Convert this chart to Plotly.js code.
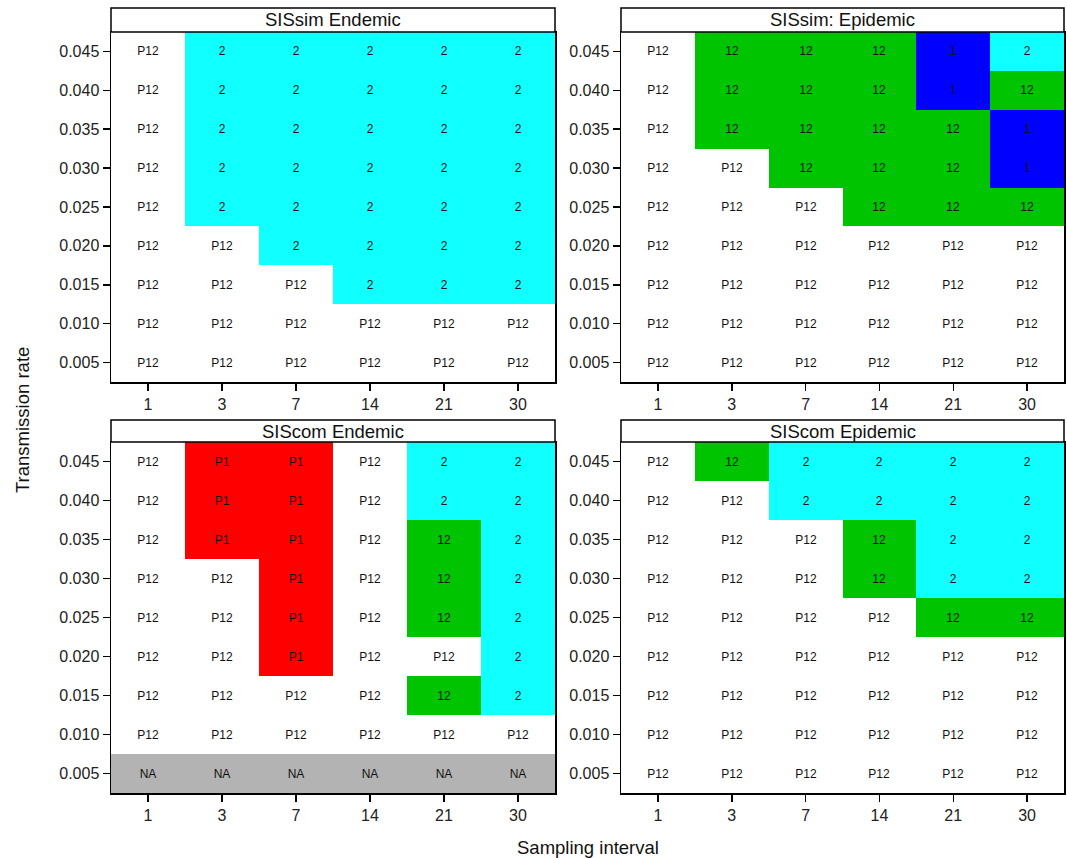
<!DOCTYPE html>
<html>
<head>
<meta charset="utf-8">
<script src="https://cdn.plot.ly/plotly-3.0.1.min.js"></script>
<style>html,body{margin:0;padding:0;background:#fff;}#chart{width:1067px;height:858px;}</style>
</head>
<body>
<div id="chart"></div>
<script>
// Categories
const samplingIntervals = ['1', '3', '7', '14', '21', '30'];
const transmissionRates = ['0.005', '0.010', '0.015', '0.020', '0.025', '0.030', '0.035', '0.040', '0.045'];
const panelTitles = ['SISsim Endemic', 'SISsim: Epidemic', 'SIScom Endemic', 'SIScom Epidemic'];
const outcomeLabels = ['P12', '2', '12', '1', 'P1', 'NA'];
const outcomeColors = ['#FFFFFF', '#10FFFF', '#00C400', '#0000FF', '#FF0000', '#B3B3B3'];

// Cell labels, rows from 0.005 (bottom) to 0.045 (top)
const sisSimEndemic = [
  ['P12','P12','P12','P12','P12','P12'],
  ['P12','P12','P12','P12','P12','P12'],
  ['P12','P12','P12','2','2','2'],
  ['P12','P12','2','2','2','2'],
  ['P12','2','2','2','2','2'],
  ['P12','2','2','2','2','2'],
  ['P12','2','2','2','2','2'],
  ['P12','2','2','2','2','2'],
  ['P12','2','2','2','2','2']
];
const sisSimEpidemic = [
  ['P12','P12','P12','P12','P12','P12'],
  ['P12','P12','P12','P12','P12','P12'],
  ['P12','P12','P12','P12','P12','P12'],
  ['P12','P12','P12','P12','P12','P12'],
  ['P12','P12','P12','12','12','12'],
  ['P12','P12','12','12','12','1'],
  ['P12','12','12','12','12','1'],
  ['P12','12','12','12','1','12'],
  ['P12','12','12','12','1','2']
];
const sisComEndemic = [
  ['NA','NA','NA','NA','NA','NA'],
  ['P12','P12','P12','P12','P12','P12'],
  ['P12','P12','P12','P12','12','2'],
  ['P12','P12','P1','P12','P12','2'],
  ['P12','P12','P1','P12','12','2'],
  ['P12','P12','P1','P12','12','2'],
  ['P12','P1','P1','P12','12','2'],
  ['P12','P1','P1','P12','2','2'],
  ['P12','P1','P1','P12','2','2']
];
const sisComEpidemic = [
  ['P12','P12','P12','P12','P12','P12'],
  ['P12','P12','P12','P12','P12','P12'],
  ['P12','P12','P12','P12','P12','P12'],
  ['P12','P12','P12','P12','P12','P12'],
  ['P12','P12','P12','P12','12','12'],
  ['P12','P12','P12','12','2','2'],
  ['P12','P12','P12','12','2','2'],
  ['P12','P12','2','2','2','2'],
  ['P12','12','2','2','2','2']
];
const panelData = [sisSimEndemic, sisSimEpidemic, sisComEndemic, sisComEpidemic];

// Layout geometry (pixels)
const W = 1067, H = 858;
const colPx = [[111, 555], [621, 1064]];
const rowPx = [{strip: [8, 32], plot: [32, 382]}, {strip: [420, 442], plot: [442, 793]}];
const px = v => v / W;
const py = v => 1 - v / H;

const n = outcomeLabels.length;
const colorscale = [];
outcomeColors.forEach((c, i) => {
  colorscale.push([i / n, c]);
  colorscale.push([(i + 1) / n, c]);
});

const traces = [];
const layout = {
  width: W, height: H,
  margin: {l: 0, r: 0, t: 0, b: 0},
  paper_bgcolor: '#fff', plot_bgcolor: '#fff',
  font: {family: 'Liberation Sans, Arial, sans-serif', color: '#000'},
  showlegend: false,
  shapes: [], annotations: []
};

panelData.forEach((d, k) => {
  const r = Math.floor(k / 2), c = k % 2;
  const sfx = k === 0 ? '' : String(k + 1);
  const z = d.map(row => row.map(v => outcomeLabels.indexOf(v) + 0.5));
  traces.push({
    type: 'heatmap',
    x: samplingIntervals, y: transmissionRates,
    z: z, text: d,
    texttemplate: '%{text}',
    textfont: {size: 12, color: '#111', family: 'Liberation Sans, Arial, sans-serif'},
    colorscale: colorscale, zmin: 0, zmax: n,
    showscale: false, hoverinfo: 'skip',
    xaxis: 'x' + sfx, yaxis: 'y' + sfx
  });
  const ax = {
    domain: [px(colPx[c][0]), px(colPx[c][1])],
    type: 'category', anchor: 'y' + sfx,
    showline: true, linecolor: '#000', linewidth: 1.5, mirror: true,
    ticks: 'outside', ticklen: 7, tickwidth: 1.5, tickcolor: '#000',
    showgrid: false, zeroline: false, fixedrange: true,
    tickfont: {size: 16, color: '#222'}
  };
  const ay = {
    domain: [py(rowPx[r].plot[1]), py(rowPx[r].plot[0])],
    type: 'category', anchor: 'x' + sfx,
    showline: true, linecolor: '#000', linewidth: 1.5, mirror: true,
    ticks: 'outside', ticklen: 7, tickwidth: 1.5, tickcolor: '#000',
    showgrid: false, zeroline: false, fixedrange: true,
    tickfont: {size: 16, color: '#222'}
  };
  layout['xaxis' + sfx] = ax;
  layout['yaxis' + sfx] = ay;
  // strip
  layout.shapes.push({
    type: 'rect', xref: 'paper', yref: 'paper',
    x0: px(colPx[c][0]), x1: px(colPx[c][1]),
    y0: py(rowPx[r].strip[1]), y1: py(rowPx[r].strip[0]),
    fillcolor: '#fff', line: {color: '#000', width: 1.5}
  });
  layout.annotations.push({
    xref: 'paper', yref: 'paper',
    x: px((colPx[c][0] + colPx[c][1]) / 2),
    y: py((rowPx[r].strip[0] + rowPx[r].strip[1]) / 2),
    text: panelTitles[k], showarrow: false,
    xanchor: 'center', yanchor: 'middle',
    font: {size: 18.5, color: '#111'}
  });
});

layout.annotations.push({
  xref: 'paper', yref: 'paper', x: px(22), y: py(420),
  text: 'Transmission rate', textangle: -90, showarrow: false,
  xanchor: 'center', yanchor: 'middle', font: {size: 18.5, color: '#111'}
});
layout.annotations.push({
  xref: 'paper', yref: 'paper', x: px(588), y: py(847),
  text: 'Sampling interval', showarrow: false,
  xanchor: 'center', yanchor: 'middle', font: {size: 18.5, color: '#111'}
});

Plotly.newPlot('chart', traces, layout, {displayModeBar: false, staticPlot: true});
</script>
</body>
</html>
